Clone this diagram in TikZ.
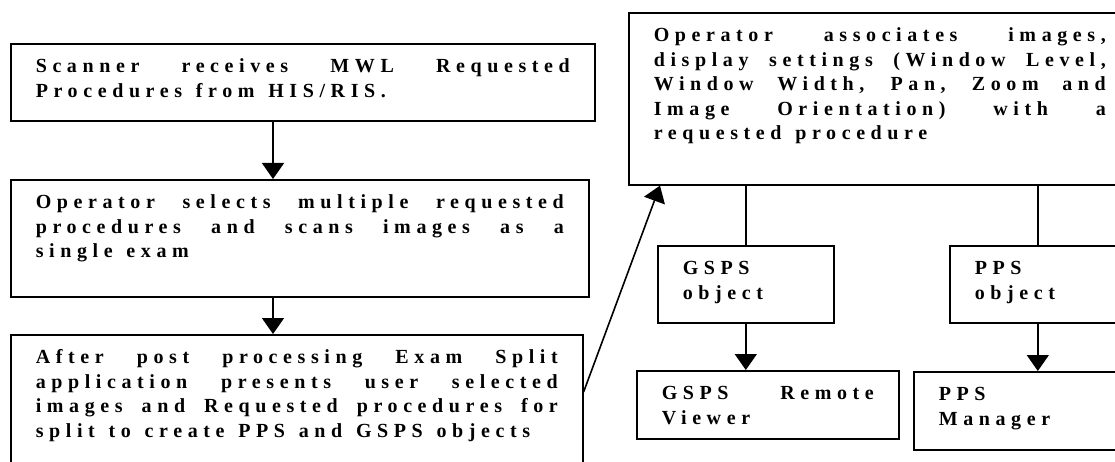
\documentclass[tikz,border=0pt]{standalone}
\usepackage{fontspec}
\setmainfont{Liberation Serif}
\newfontfamily\boxfont[LetterSpace=28, WordSpace=1.3]{Liberation Serif}
\usetikzlibrary{arrows.meta,calc}

\tikzset{
  stepbox/.style={draw, line width=1.6pt, anchor=north west, inner xsep=25pt, inner ysep=0pt,
    text height=29pt, align=justify, font=\boxfont\bfseries\fontsize{20}{24.5}\selectfont},
  flow/.style={line width=1.6pt, -{Triangle[length=16pt,width=22pt]}},
  link/.style={line width=1.6pt}
}

\begin{document}
\begin{tikzpicture}[x=1pt, y=-1pt]
      \useasboundingbox (0, 0) rectangle (1115, 462);
      \clip (0, 0) rectangle (1115, 462);

      % Nodes, left column
      \node[stepbox, text width=534pt, text depth=48pt] at (10, 43) (scan)
        {Scanner receives MWL Requested\linebreak Procedures from HIS/RIS.};
      \node[stepbox, text width=528pt, text depth=88pt] at (10, 179) (select)
        {Operator selects multiple requested\linebreak procedures and scans images as a\linebreak single exam};
      \node[stepbox, text width=522pt, text depth=111pt] at (10, 334) (split)
        {After post processing Exam Split\linebreak application presents user selected\linebreak images and Requested procedures for\linebreak split to create PPS and GSPS objects};

      % Nodes, right side
      \node[stepbox, text width=452pt, text depth=143pt] at (628, 12) (assoc)
        {Operator associates images,\linebreak display settings (Window Level,\linebreak Window Width, Pan, Zoom and\linebreak Image Orientation) with a\linebreak requested procedure};
      \node[stepbox, text width=126pt, text depth=48pt, align=left] at (657, 245) (gsps) {GSPS\\object};
      \node[stepbox, text width=126pt, text depth=48pt, align=left] at (949, 245) (pps) {PPS\\object};
      \node[stepbox, text width=212pt, text depth=39pt] at (636, 370) (viewer) {GSPS Remote\linebreak Viewer};
      \node[stepbox, text width=212pt, text depth=49pt, align=left] at (913, 371) (manager) {PPS\\Manager};

      % Connectors
      \draw[flow] ($(scan.south west)+(263, 0)$) coordinate (s1) -- (s1 |- select.north);
      \draw[flow] ($(select.south west)+(263, 0)$) coordinate (s2) -- (s2 |- split.north);
      \draw[flow] ($(split.north east)+(0, 58)$) -- ($(assoc.south west)+(32, 0)$);

      \draw[link] (assoc.south -| gsps.north) -- (gsps.north);
      \draw[link] (assoc.south -| pps.north) -- (pps.north);
      \draw[flow] (gsps.south) -- (viewer.north -| gsps.south);
      \draw[flow] (pps.south) -- (manager.north -| pps.south);
\end{tikzpicture}
\end{document}
